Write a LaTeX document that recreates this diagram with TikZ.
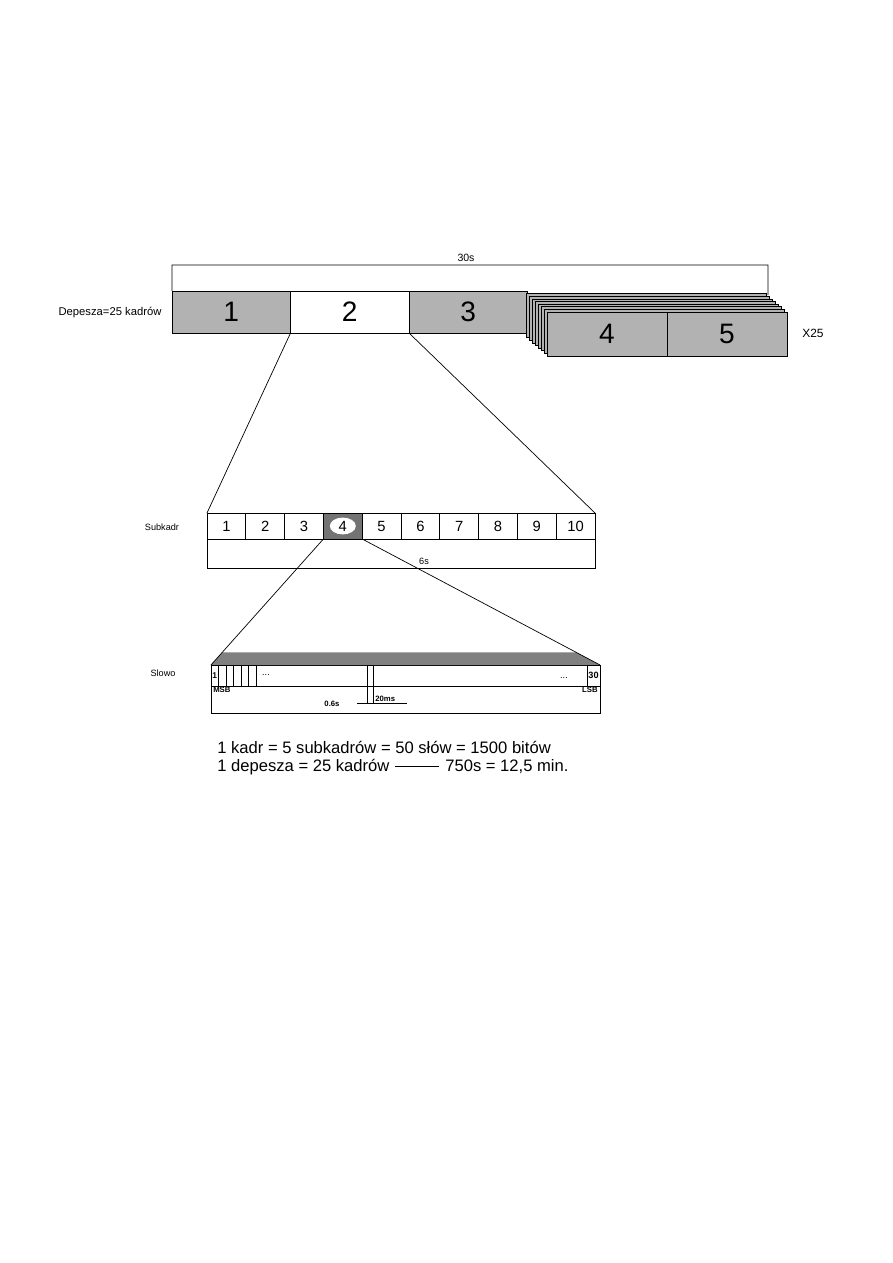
\documentclass[tikz,border=0pt]{standalone}
\usepackage{fontspec}
\setmainfont{Liberation Sans}
\usetikzlibrary{calc,positioning,shapes.geometric}

\begin{document}
\begin{tikzpicture}[x=0.025cm,y=-0.025cm,line width=0.5pt,
  kadr/.style={draw,outer sep=0pt,inner sep=0pt,minimum width=2.9625cm,minimum height=1.05cm,font=\fontsize{20}{24}\selectfont},
  sub/.style={draw,outer sep=0pt,inner sep=0pt,minimum width=0.97cm,minimum height=0.65cm,font=\fontsize{10.5}{12}\selectfont},
  bit/.style={draw,outer sep=0pt,inner sep=0pt,minimum width=0.1875cm,minimum height=0.525cm},
  szary/.style={fill=black!30},
  opis/.style={inner sep=0pt,font=\fontsize{6.5}{8}\selectfont},
  maly/.style={inner sep=0pt,font=\bfseries\fontsize{5.5}{6}\selectfont},
  wynik/.style={anchor=base west,inner sep=0pt,font=\fontsize{11.8}{14}\selectfont}]
\useasboundingbox (0,0) rectangle (893,1263);

% depesza: 25 kadrow po 30s
\node[kadr,szary] (b1) at (231.25,312) {1};
\node[kadr] (b2) [right=0pt of b1] {2};
\node[kadr,szary] (b3) [right=0pt of b2] {3};
\coordinate (st) at (547,312);
\foreach \k in {7,...,1}
  \draw[szary] ($(st)+(-3*\k,-2.6*\k)$) rectangle ++(240,44);
\node[kadr,szary,minimum width=3cm,minimum height=1.1cm,anchor=north west] (b4) at (st) {4};
\node[kadr,szary,minimum width=3cm,minimum height=1.1cm] (b5) [right=0pt of b4] {5};
\coordinate (r1) at (172,265);
\coordinate (r2) at (768,265);
\draw (b1.north west) -- (r1) -- (r2) -- ++(0,30);
\node[opis,font=\fontsize{7.5}{9}\selectfont] (t30) at (466,258) {30s};
\node[opis,font=\fontsize{8}{10}\selectfont] (dep) at (110,313) {Depesza=25 kadrów};
\node[opis,font=\fontsize{8.5}{10}\selectfont] (x25) at (813,333) {X25};

% subkadr: 10 slow
\foreach \i in {1,...,10}
  \node[sub] (s\i) at (187.6+38.8*\i,526) {\i};
\fill[black!55] (s4.south west) rectangle (s4.north east);
\draw (s4.south west) rectangle (s4.north east);
\node[ellipse,fill=white,inner sep=0pt,minimum width=0.65cm,minimum height=0.42cm,font=\fontsize{10.5}{12}\selectfont] (e4) at (s4) {4};
\draw (s1.south west) -- ++(0,29) -| (s10.south east);
\node[opis] (t6) at (424,561) {6s};
\node[opis] (sk) at (162,527) {Subkadr};
\draw (b2.south west) -- (s1.north west);
\draw (b2.south east) -- (s10.north east);

% slowo: 30 bitow
\node[draw,outer sep=0pt,minimum width=9.725cm,minimum height=0.525cm] (slowo) at (405.5,675.5) {};
\node[draw,outer sep=0pt,minimum width=9.725cm,minimum height=0.675cm,anchor=north] (dol) at (slowo.south) {};
\fill[black!50] ($(s4.south west)!0.9!(slowo.north west)$) -- ($(s4.south east)!0.9!(slowo.north east)$)
  -- (slowo.north east) -- (slowo.north west) -- cycle;
\draw (s4.south west) -- (slowo.north west);
\draw (s4.south east) -- (slowo.north east);
\node[bit,anchor=west,font=\bfseries\fontsize{6}{7}\selectfont] (c1) at (slowo.west) {1};
\foreach \i [remember=\i as \p (initially 1)] in {2,...,6}
  \node[bit] (c\i) [right=0pt of c\p] {};
\node[bit,minimum width=0.325cm,anchor=east,font=\bfseries\fontsize{6.5}{7}\selectfont] (c30) at (slowo.east) {30};
\node[bit,minimum width=0.15cm,minimum height=0.95cm,anchor=north] (c20) at (370,665) {};
\draw ($(c20.south)+(-13,0)$) -- ($(c20.south)+(37,0)$);
\node[opis] (k1) at (266,675) {...};
\node[opis] (k2) at (564,678) {...};
\node[maly,anchor=north west] (msb) at ($(dol.north west)+(2,1)$) {MSB};
\node[maly,anchor=north east] (lsb) at ($(dol.north east)+(-2,1)$) {LSB};
\node[maly] (t06) at (332,704) {0.6s};
\node[maly,anchor=south west] (t20) at ($(c20.south east)+(2,-1)$) {20ms};
\node[opis] (sl) at (163,673) {Slowo};

% podsumowanie
\node[wynik] (w1) at (217,753) {1 kadr = 5 subkadrów = 50 słów = 1500 bitów};
\node[wynik] (w2) at (217,771) {1 depesza = 25 kadrów};
\node[wynik] (w3) at (445,771) {750s = 12,5 min.};
\draw[shorten <=4pt,shorten >=4pt] (w2.east) -- (w2.east -| w3.west);
\end{tikzpicture}
\end{document}
